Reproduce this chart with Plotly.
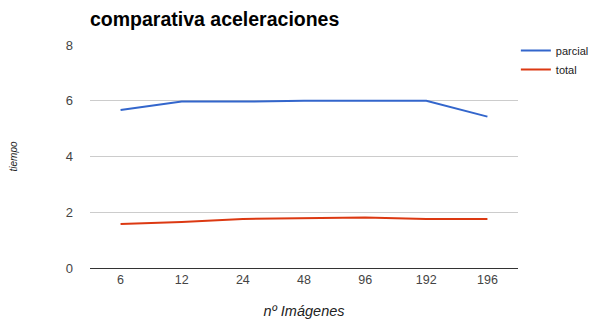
import plotly.graph_objects as go

categories = ["6", "12", "24", "48", "96", "192", "196"]
parcial = [5.67, 5.97, 5.97, 6.0, 6.0, 6.0, 5.43]
total = [1.58, 1.65, 1.76, 1.79, 1.81, 1.76, 1.76]

W, H = 589, 311  # page body has an 8px margin

fig = go.Figure()
fig.add_trace(go.Scatter(x=categories, y=parcial, mode="lines", name="parcial",
                         line=dict(color="#3366cc", width=2)))
fig.add_trace(go.Scatter(x=categories, y=total, mode="lines", name="total",
                         line=dict(color="#dc3912", width=2)))

fig.update_layout(
    width=W, height=H,
    margin=dict(l=82, r=79, t=37, b=51, autoexpand=False),
    paper_bgcolor="white", plot_bgcolor="white",
    font=dict(family="Liberation Sans, Arial, sans-serif", size=12, color="#444444"),
    title=dict(text="<b>comparativa aceleraciones</b>", x=82/W, xanchor="left",
               y=1 - 11/H, yanchor="middle",
               font=dict(size=19.5, color="#000000")),
    legend=dict(x=0.995, y=1.04, xanchor="left", yanchor="top",
                font=dict(size=11, color="#222222"), itemwidth=30,
                tracegroupgap=0, bgcolor="rgba(0,0,0,0)"),
    xaxis=dict(type="category", showgrid=False, showline=True, linecolor="#333333",
               linewidth=1, ticks="", tickfont=dict(size=12.5, color="#444444"),
               automargin=False,
               title=dict(text="<i>nº Imágenes</i>", font=dict(size=14.5, color="#222222"),
                          standoff=21),
               range=[-0.5, 6.5]),
    yaxis=dict(range=[0, 8], dtick=2, showgrid=True, gridcolor="#cccccc",
               zeroline=False, showline=False, ticks="", automargin=False,
               tickfont=dict(size=13, color="#444444"), ticklabelstandoff=16,
               title=dict(text="<i>tiempo</i>", font=dict(size=10, color="#222222"),
                          standoff=58)),
)

fig.write_html("out.html")
